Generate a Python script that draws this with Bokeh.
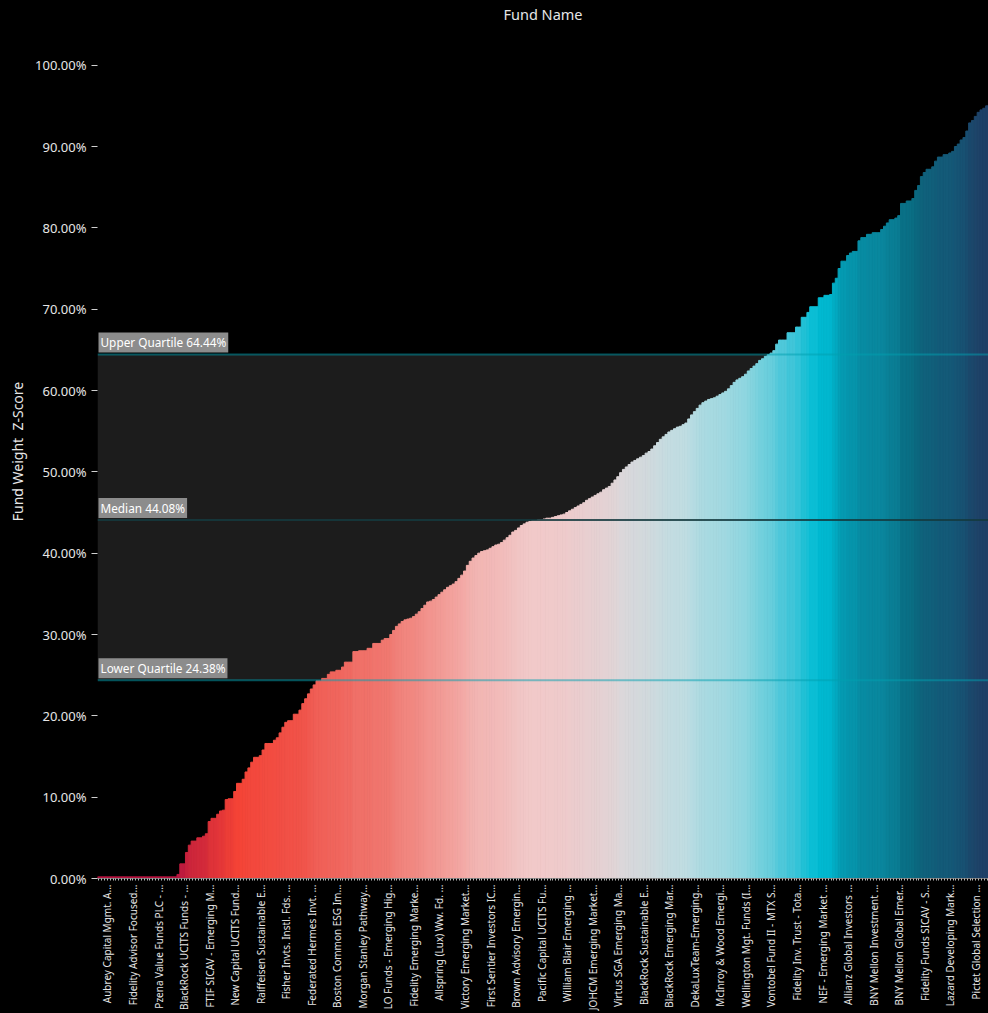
import math
import numpy as np
from bokeh.plotting import figure
from bokeh.models import (FixedTicker, NumeralTickFormatter, BoxAnnotation, Span,
                          Label, Range1d, ColumnDataSource)
from bokeh.embed import file_html
from bokeh.resources import INLINE

# ---- data ----
fund_labels = [
    "Aubrey Capital Mgmt. A...", "Fidelity Advisor Focused...", "Pzena Value Funds PLC - ...",
    "BlackRock UCITS Funds - ...", "FTIF SICAV - Emerging M...", "New Capital UCITS Fund...",
    "Raiffeisen Sustainable E...", "Fisher Invts. Instl. Fds. ...", "Federated Hermes Invt. ...",
    "Boston Common ESG Im...", "Morgan Stanley Pathway...", "LO Funds - Emerging Hig...",
    "Fidelity Emerging Marke...", "Allspring (Lux) Ww. Fd. ...", "Victory Emerging Market...",
    "First Sentier Investors IC...", "Brown Advisory Emergin...", "Pacific Capital UCITS Fu...",
    "William Blair Emerging ...", "JOHCM Emerging Market...", "Virtus SGA Emerging Ma...",
    "BlackRock Sustainable E...", "BlackRock Emerging Mar...", "DekaLuxTeam-Emerging...",
    "McInroy & Wood Emergi...", "Wellington Mgt. Funds (I...", "Vontobel Fund II - MTX S...",
    "Fidelity Inv. Trust - Tota...", "NEF - Emerging Market ...", "Allianz Global Investors ...",
    "BNY Mellon Investment ...", "BNY Mellon Global Emer...", "Fidelity Funds SICAV - S...",
    "Lazard Developing Mark...", "Pictet Global Selection ...",
]

# fund weight z-score, percent, sorted ascending (one value per fund)
z_score_pct = [
    0.2, 0.2, 0.2, 0.2, 0.2, 0.2, 0.2, 0.2, 0.2, 0.2,
    0.2, 0.2, 0.2, 0.2, 0.2, 0.2, 0.2, 0.2, 0.2, 0.2,
    0.2, 0.2, 0.2, 0.2, 0.2, 0.2, 0.2, 0.2, 0.5, 1.8,
    1.8, 3.2, 4.1, 4.6, 4.6, 5.0, 5.0, 5.2, 5.5, 7.0,
    7.4, 7.4, 7.9, 8.3, 8.4, 9.7, 9.8, 9.8, 10.7, 11.7,
    11.7, 12.2, 13.1, 13.6, 14.3, 14.9, 14.9, 15.1, 15.8, 16.6,
    16.6, 16.6, 17.0, 17.3, 17.9, 18.6, 19.2, 19.4, 19.4, 20.2,
    20.2, 20.7, 21.5, 22.1, 22.7, 23.3, 23.8, 24.3, 24.3, 24.6,
    24.6, 25.1, 25.4, 25.4, 25.6, 25.6, 26.0, 26.6, 26.6, 26.6,
    27.9, 27.9, 28.0, 28.0, 28.0, 28.3, 28.3, 28.9, 28.9, 28.9,
    29.3, 29.5, 29.5, 30.0, 30.5, 31.0, 31.3, 31.6, 31.8, 31.9,
    32.0, 32.2, 32.5, 32.8, 33.2, 33.6, 34.0, 34.1, 34.3, 34.6,
    34.9, 35.2, 35.5, 35.8, 36.0, 36.2, 36.5, 36.9, 37.3, 37.8,
    38.5, 39.0, 39.4, 39.7, 40.0, 40.2, 40.3, 40.4, 40.6, 40.8,
    41.0, 41.1, 41.3, 41.6, 41.9, 42.2, 42.6, 42.8, 43.1, 43.4,
    43.6, 43.8, 43.9, 44.0, 44.0, 44.1, 44.1, 44.2, 44.3, 44.3,
    44.4, 44.5, 44.6, 44.7, 44.8, 45.0, 45.2, 45.4, 45.6, 45.8,
    46.0, 46.2, 46.5, 46.7, 46.9, 47.1, 47.3, 47.5, 47.8, 48.0,
    48.2, 48.6, 49.0, 49.4, 49.9, 50.3, 50.6, 50.9, 51.2, 51.4,
    51.6, 51.8, 52.0, 52.3, 52.5, 52.8, 53.2, 53.6, 54.0, 54.3,
    54.6, 54.9, 55.1, 55.3, 55.5, 55.6, 55.8, 56.0, 56.5, 57.0,
    57.4, 57.8, 58.2, 58.5, 58.7, 58.9, 59.0, 59.1, 59.3, 59.5,
    59.7, 59.9, 60.2, 60.6, 61.0, 61.3, 61.5, 61.7, 62.0, 62.4,
    62.7, 63.0, 63.3, 63.7, 63.9, 64.2, 64.4, 64.6, 64.9, 65.7,
    66.2, 66.2, 66.2, 67.1, 67.1, 67.1, 67.8, 67.8, 69.0, 69.0,
    69.6, 70.3, 70.3, 70.3, 71.4, 71.4, 71.7, 71.7, 71.8, 73.2,
    73.8, 75.0, 75.9, 75.9, 76.6, 76.9, 77.1, 77.1, 78.4, 78.8,
    78.8, 79.2, 79.2, 79.4, 79.4, 79.4, 79.8, 80.2, 80.6, 81.0,
    81.0, 81.2, 81.5, 83.0, 83.0, 83.3, 83.3, 83.6, 84.6, 85.2,
    86.3, 86.8, 87.2, 87.2, 87.5, 88.2, 88.7, 88.7, 89.0, 89.0,
    89.2, 89.4, 90.0, 90.3, 90.8, 91.1, 91.9, 92.9, 93.2, 93.7,
    94.2, 94.5, 94.7, 95.0,
]

lower_quartile = 0.2438
median = 0.4408
upper_quartile = 0.6444

# ---- styling ----
label_every = 9
label_first = 3
stop_vals = [0, 11, 22, 30, 37, 44, 50, 56, 62, 66, 71, 76, 80, 84, 89, 95]
stop_cols = ["#b3133f", "#f44336", "#f0554c", "#f07a72", "#f3a7a3", "#f1c9c9",
             "#dcd7da", "#bfdde2", "#8fd6e0", "#52c9da", "#00bcd4", "#0599b0",
             "#0a859c", "#0a6a80", "#145a78", "#1f3f66"]


def hex2rgb(h):
    h = h.lstrip("#")
    return [int(h[k:k + 2], 16) for k in (0, 2, 4)]


rgb = np.array([hex2rgb(c) for c in stop_cols], dtype=float)


def colour_for(v):
    r = np.interp(v, stop_vals, rgb[:, 0])
    g = np.interp(v, stop_vals, rgb[:, 1])
    b = np.interp(v, stop_vals, rgb[:, 2])
    return "#%02x%02x%02x" % (int(round(r)), int(round(g)), int(round(b)))


N = len(z_score_pct)
idx = list(range(N))
tops = [v / 100.0 for v in z_score_pct]
colours = [colour_for(v) for v in z_score_pct]

src = ColumnDataSource(dict(x=idx, top=tops, color=colours))

FONT = "Noto Sans"
TXT = "#e6e6e6"

p = figure(width=988, height=1013, output_backend="svg", toolbar_location=None,
           x_range=Range1d(-0.5, N - 0.5), y_range=Range1d(0, 1.050),
           background_fill_color="black", border_fill_color="black",
           min_border_left=97, min_border_right=0, min_border_top=17,
           min_border_bottom=133)
p.outline_line_color = None
p.grid.visible = False

band = BoxAnnotation(bottom=lower_quartile, top=upper_quartile, fill_color="#1c1c1c",
                     fill_alpha=1.0, line_color=None, level="underlay")
p.add_layout(band)

p.vbar(x="x", top="top", bottom=0, width=1.0, source=src, fill_color="color",
       line_color="color", line_width=1.0)

for loc, col, alpha in [(upper_quartile, "#00a0b0", 0.5), (median, "#14393e", 0.85),
                        (lower_quartile, "#00a0b0", 0.5)]:
    p.add_layout(Span(location=loc, dimension="width", line_color=col,
                      line_alpha=alpha, line_width=2))

for loc, name in [(upper_quartile, "Upper Quartile"), (median, "Median"),
                  (lower_quartile, "Lower Quartile")]:
    p.add_layout(Label(x=-0.5, y=loc, text="%s %.2f%%" % (name, loc * 100),
                       x_offset=1, y_offset=2, text_baseline="bottom",
                       text_font=FONT, text_font_size="11.8px", text_color="white",
                       background_fill_color="#8c8c8c", padding=2))

# y axis
yax = p.yaxis[0]
yax.ticker = FixedTicker(ticks=[k / 10 for k in range(11)])
yax.formatter = NumeralTickFormatter(format="0.00%")
yax.axis_label = "Fund Weight\u00a0 Z-Score"
yax.axis_label_text_font = FONT
yax.axis_label_text_font_style = "normal"
yax.axis_label_text_font_size = "14px"
yax.axis_label_text_color = TXT
yax.major_label_text_font = FONT
yax.major_label_text_font_size = "13px"
yax.major_label_text_color = TXT
yax.major_tick_in = 0
yax.major_tick_out = 6
yax.major_tick_line_color = "#d0d0d0"
yax.minor_tick_line_color = None
yax.axis_line_color = None

# x axis: one tick per fund, names on every 9th fund
label_pos = [label_first + label_every * k for k in range(len(fund_labels))]
overrides = {i: "" for i in idx}
for pos, name in zip(label_pos, fund_labels):
    overrides[pos] = name
xax = p.xaxis[0]
xax.ticker = FixedTicker(ticks=idx)
xax.major_label_overrides = overrides
xax.major_label_orientation = math.pi / 2
xax.major_label_text_font = FONT
xax.major_label_text_font_size = "10px"
xax.major_label_text_color = TXT
xax.major_label_standoff = 4
xax.major_tick_in = 0
xax.major_tick_out = 2
xax.major_tick_line_color = "#bbbbbb"
xax.minor_tick_line_color = None
xax.axis_line_color = "#777777"

p.title.text = "Fund Name"
p.title.align = "center"
p.title.text_font = FONT
p.title.text_font_style = "normal"
p.title.text_font_size = "14.5px"
p.title.text_color = TXT
p.title.standoff = 2

html = file_html(p, INLINE)
html = html.replace("<head>", "<head><style>html, body { background: #000; }</style>", 1)
open("out.html", "w").write(html)
